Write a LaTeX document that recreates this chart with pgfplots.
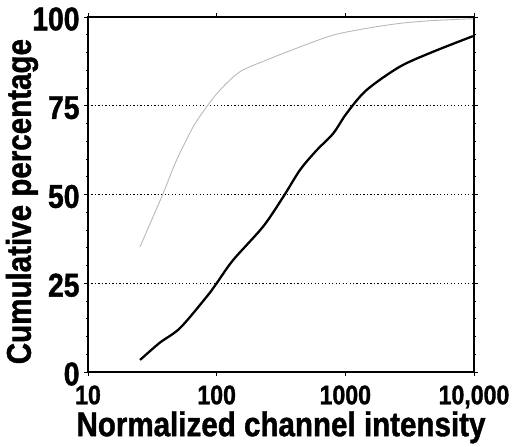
\documentclass[border=0pt]{standalone}
\usepackage{fontspec}
\setmainfont{Liberation Sans}[FakeStretch=0.86, BoldFeatures={FakeBold=1.2}]
\usepackage{pgfplots}
\pgfplotsset{compat=1.18}

\begin{document}
\begin{tikzpicture}
\begin{axis}[
    name=ax,
    scale only axis,
    width=386bp, height=355bp,
    xmode=log, log basis x=10,
    xmin=10, xmax=10000,
    ymin=0, ymax=100,
    xtick={10,100,1000,10000},
    xticklabels={10,100,1000,{10,000}},
    ytick={0,25,50,75,100},
    yticklabels={0,25,50,75,100},
    minor y tick num=4,
    tick align=outside,
    major tick length=4pt, minor tick length=2.5pt,
    every tick/.style={black, line width=0.9pt},
    axis line style={line width=1.6pt},
    /pgf/number format/assume math mode=true,
    xticklabel style={font=\fontsize{27}{30}\selectfont\bfseries, yshift=-6pt},
    yticklabel style={font=\fontsize{33}{36}\selectfont\bfseries, xshift=-1pt, yshift=-2pt},
    label style={font=\fontsize{34.5}{38}\selectfont\bfseries},
    xlabel={Normalized channel intensity},
    ylabel={Cumulative percentage},
    ylabel style={at={(axis description cs:-0.171,0.48)}, anchor=center},
    xlabel style={yshift=4pt},
    clip=false,
]
% dotted reference lines
\addplot[black, line width=1.4pt, dash pattern=on 1.3pt off 2.2pt, forget plot]
    coordinates {(10,25) (10000,25)};
\addplot[black, line width=1.4pt, dash pattern=on 1.3pt off 2.2pt, forget plot]
    coordinates {(10,50) (10000,50)};
\addplot[black, line width=1.4pt, dash pattern=on 1.3pt off 2.2pt, forget plot]
    coordinates {(10,75) (10000,75)};

% gray curve
\addplot[gray!55, line width=0.9pt, smooth] coordinates {
    (25.4,35.3) (32,43.7) (38.4,50.3) (48.8,59.7) (65.8,69.1) (83.6,74.7)
    (106,79.4) (152,84.6) (245,87.9) (446,91.6) (805,94.9) (1460,96.8)
    (2650,98.2) (4800,99.0) (9800,99.5)
};

% black curve
\addplot[black, line width=2.3pt, smooth] coordinates {
    (25.4,3.4) (36,8.2) (52,12.4) (83.6,21.2) (100,25) (134,31.5)
    (230,41) (330,49.4) (446,57) (600,62.5) (805,67.2) (1025,72.9)
    (1460,79.4) (2650,86) (4800,90.2) (9800,94.6)
};
\end{axis}
\pgfresetboundingbox
\path ([shift={(-88bp,-75bp)}]ax.south west) rectangle ([shift={(53bp,17bp)}]ax.north east);
\end{tikzpicture}
\end{document}
